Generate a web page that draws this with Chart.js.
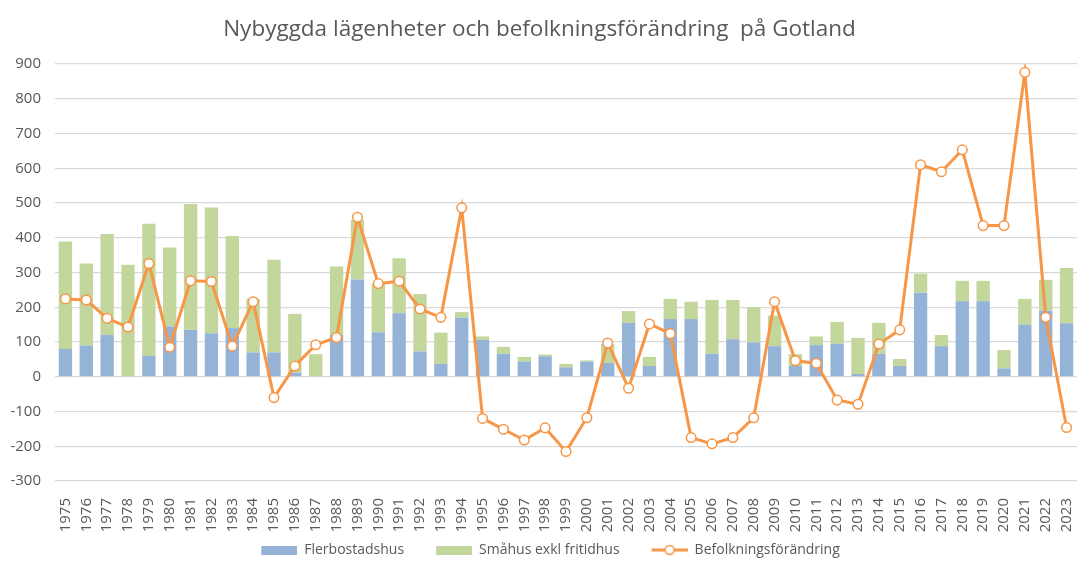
<!DOCTYPE html>
<html>
<head>
<meta charset="utf-8">
<script src="https://cdn.jsdelivr.net/npm/chart.js@4"></script>
<style>
  html, body { margin: 0; padding: 0; background: #fff; }
  #wrap { width: 1077px; height: 561px; }
</style>
</head>
<body>
<div id="wrap"><canvas id="chart"></canvas></div>
<script>
const years = [];
for (let y = 1975; y <= 2023; y++) years.push(String(y));

// Flerbostadshus (blue, bottom of stack)
const flerbostadshus = [80, 90, 120, 0, 60, 145, 135, 125, 140, 70,
  70, 12, 0, 120, 280, 128, 183, 73, 37, 170,
  106, 66, 44, 59, 27, 44, 40, 155, 31, 166,
  166, 66, 108, 99, 88, 31, 91, 95, 8, 66,
  31, 242, 88, 217, 217, 24, 150, 191, 154];

// Småhus exkl fritidhus (green, top of stack)
const smahus = [309, 236, 291, 322, 380, 227, 362, 362, 265, 154,
  267, 169, 65, 197, 172, 139, 158, 165, 90, 16,
  10, 20, 13, 5, 10, 3, 54, 34, 26, 58,
  50, 155, 113, 101, 88, 34, 25, 63, 104, 89,
  20, 55, 32, 59, 59, 53, 74, 88, 159];

// Befolkningsförändring (line)
const befolkning = [224, 221, 168, 143, 326, 85, 276, 274, 88, 216,
  -60, 31, 92, 113, 459, 268, 275, 195, 171, 486,
  -120, -151, -182, -147, -215, -118, 97, -33, 152, 124,
  -175, -193, -175, -118, 216, 46, 39, -67, -79, 94,
  135, 610, 590, 653, 435, 435, 876, 171, -146];

const yTicks = { min: -300, max: 900, step: 100 };

const BLUE = "#95b3d7";
const GREEN = "#c3d69b";
const ORANGE = "#f79646";
const TEXT = "#595959";
const FONT = "'Open Sans', 'Noto Sans', sans-serif";

// legend icons, with blank space on the left to spread the items out
const ICON_W = 58;
function boxIcon(color) {
  const c = document.createElement("canvas");
  c.width = ICON_W; c.height = 9;
  const g = c.getContext("2d");
  g.fillStyle = color;
  g.fillRect(ICON_W - 36, 0, 36, 9);
  return c;
}
function lineIcon() {
  const c = document.createElement("canvas");
  c.width = ICON_W; c.height = 12;
  const g = c.getContext("2d");
  const x0 = ICON_W - 36;
  g.strokeStyle = ORANGE;
  g.lineWidth = 3;
  g.beginPath(); g.moveTo(x0, 6); g.lineTo(ICON_W, 6); g.stroke();
  g.fillStyle = "#fff";
  g.lineWidth = 1.5;
  g.beginPath(); g.arc(x0 + 18, 6, 4.5, 0, Math.PI * 2); g.fill(); g.stroke();
  return c;
}
const icons = [lineIcon(), boxIcon(BLUE), boxIcon(GREEN)];

const ctx = document.getElementById("chart").getContext("2d");
new Chart(ctx, {
  type: "bar",
  data: {
    labels: years,
    datasets: [
      {
        type: "line",
        label: "Befolkningsförändring",
        data: befolkning,
        borderColor: ORANGE,
        borderWidth: 3,
        tension: 0,
        pointRadius: 4.8,
        pointBorderWidth: 1.5,
        pointBackgroundColor: "#fff",
        pointBorderColor: ORANGE,
        order: 0
      },
      {
        label: "Flerbostadshus",
        data: flerbostadshus,
        backgroundColor: BLUE,
        order: 1
      },
      {
        label: "Småhus exkl fritidhus",
        data: smahus,
        backgroundColor: GREEN,
        order: 1
      }
    ]
  },
  options: {
    responsive: true,
    maintainAspectRatio: false,
    animation: false,
    layout: { autoPadding: false, padding: { left: 0, right: -2, top: 0, bottom: -6 } },
    datasets: {
      bar: { barPercentage: 0.64, categoryPercentage: 1 }
    },
    scales: {
      x: {
        stacked: true,
        grid: { display: false },
        border: { display: false },
        ticks: {
          color: TEXT,
          font: { family: FONT, size: 15 },
          minRotation: 90,
          maxRotation: 90,
          autoSkip: false,
          padding: 9
        },
        afterFit(scale) {
          scale.height = 52;
          // plot runs right up to the edge like in the original
          scale.paddingLeft = 0;
          scale.paddingRight = -2;
        }
      },
      y: {
        stacked: true,
        min: yTicks.min,
        max: yTicks.max,
        grid: { color: "#d9d9d9", lineWidth: 1.2, drawTicks: false },
        border: { display: false },
        ticks: {
          stepSize: yTicks.step,
          color: TEXT,
          font: { family: FONT, size: 15 },
          padding: 14
        },
        afterFit(scale) { scale.width = 55; }
      }
    },
    plugins: {
      title: {
        display: true,
        text: "Nybyggda lägenheter och befolkningsförändring  på Gotland",
        color: TEXT,
        font: { family: FONT, size: 22.5, weight: "normal" },
        padding: { top: 16, bottom: 21 }
      },
      legend: {
        position: "bottom",
        labels: {
          color: TEXT,
          font: { family: FONT, size: 14 },
          usePointStyle: true,
          pointStyleWidth: ICON_W,
          padding: 10,
          sort: (a, b) => a.datasetIndex === 0 ? 1 : (b.datasetIndex === 0 ? -1 : a.datasetIndex - b.datasetIndex),
          generateLabels(chart) {
            const items = Chart.defaults.plugins.legend.labels.generateLabels(chart);
            items.forEach(it => { it.pointStyle = icons[it.datasetIndex]; });
            return items;
          }
        }
      },
      tooltip: { enabled: false }
    }
  }
});
</script>
</body>
</html>
